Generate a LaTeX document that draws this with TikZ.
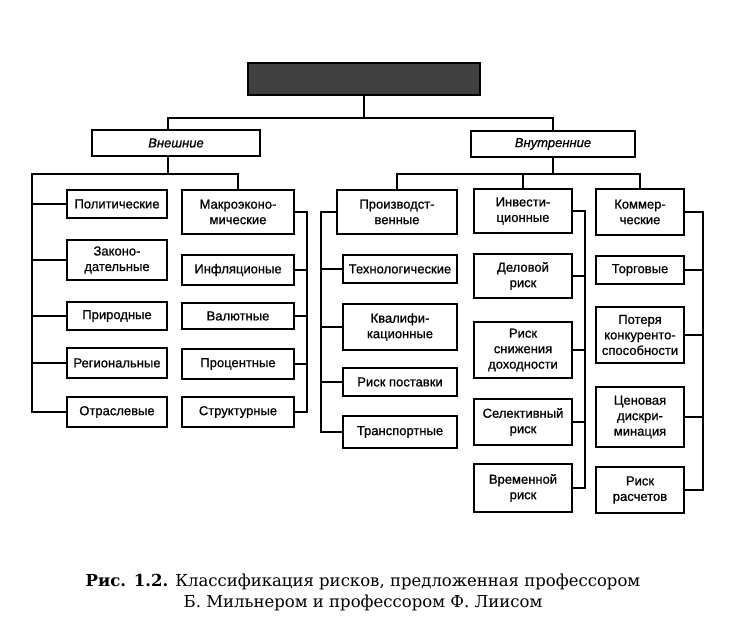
\documentclass[tikz,border=0pt]{standalone}
\usepackage{fontspec}
\setmainfont{DejaVu Serif}
\newfontfamily\boxsans[FakeBold=0.8]{Liberation Sans}

\tikzset{
  rbox/.style={draw,align=center,inner sep=0pt,
    font=\boxsans\fontsize{13}{15.5}\selectfont},
  grp/.style={rbox,font=\boxsans\itshape\fontsize{13}{15.5}\selectfont},
  colA/.style={rbox,minimum width=100pt},
  colB/.style={rbox,minimum width=112pt},
  colC/.style={rbox,minimum width=114pt},
  colD/.style={rbox,minimum width=98pt},
  colE/.style={rbox,minimum width=88pt}
}

\begin{document}
\begin{tikzpicture}[x=1pt,y=-1pt,line width=1.8pt]
\useasboundingbox (0,0) rectangle (735,623);

\node (risks) [draw,fill=black!75,minimum width=232pt,minimum height=32pt] at (364,79) {};
\node (ext) [grp,minimum width=168pt,minimum height=26pt] at (176,143) {Внешние};
\node (int) [grp,minimum width=164pt,minimum height=26pt] at (553,144) {Внутренние};

\node (pol)   [colA,minimum height=28pt] at (117,204) {Политические};
\node (zak)   [colA,minimum height=40pt] at (117,260) {Законо-\\дательные};
\node (pri)   [colA,minimum height=28pt] at (117,316) {Природные};
\node (reg)   [colA,minimum height=30pt] at (117,363) {Региональные};
\node (otr)   [colA,minimum height=30pt] at (117,412) {Отраслевые};

\node (makro) [colB,minimum height=44pt] at (238,212) {Макроэконо-\\мические};
\node (infl)  [colB,minimum height=30pt] at (238,270) {Инфляционые};
\node (val)   [colB,minimum height=26pt] at (238,316) {Валютные};
\node (proc)  [colB,minimum height=30pt] at (238,364) {Процентные};
\node (str)   [colB,minimum height=30pt] at (238,412) {Структурные};

\node (proizv) [colC,minimum width=120pt,minimum height=44pt] at (397,212) {Производст-\\венные};
\node (tech)  [colC,minimum height=28pt] at (400,269) {Технологические};
\node (kval)  [colC,minimum height=46pt] at (400,327) {Квалифи-\\кационные};
\node (post)  [colC,minimum height=28pt] at (400,382) {Риск поставки};
\node (trans) [colC,minimum height=32pt] at (400,432) {Транспортные};

\node (inv)   [colD,minimum height=44pt] at (523,211) {Инвести-\\ционные};
\node (del)   [colD,minimum height=44pt] at (523,276) {Деловой\\риск};
\node (snizh) [colD,minimum height=56pt] at (523,350) {Риск\\снижения\\доходности};
\node (sel)   [colD,minimum height=46pt] at (523,422) {Селективный\\риск};
\node (vrem)  [colD,minimum height=48pt] at (523,488) {Временной\\риск};

\node (komm)  [colE,minimum height=46pt] at (640,212) {Коммер-\\ческие};
\node (torg)  [colE,minimum height=28pt] at (640,270) {Торговые};
\node (poter) [colE,minimum height=56pt] at (640,335) {Потеря\\конкуренто-\\способности};
\node (cen)   [colE,minimum height=60pt] at (640,417) {Ценовая\\дискри-\\минация};
\node (rasch) [colE,minimum height=46pt] at (640,490) {Риск\\расчетов};

\coordinate (hT) at (364,118);
\coordinate (hE) at (168,174);
\coordinate (hI) at (553,174);
\coordinate (bA) at (32,0);
\coordinate (bB) at (307,0);
\coordinate (bC) at (321,0);
\coordinate (bD) at (585,0);
\coordinate (bE) at (703,0);

\draw (risks.south) -- (hT);
\draw ([xshift=-8pt]ext.north) |- (hT) -| (int.north);
\draw ([xshift=-8pt]ext.south) -- (hE);
\draw (int.south) -- (hI);

\draw (makro.north) |- (hE) -| (otr.west -| bA) -- (otr.west);
\foreach \n in {pol,zak,pri,reg}
  \draw (\n.west) -- (\n.west -| bA);
\draw (makro.east) -| (str.east -| bB) -- (str.east);
\foreach \n in {infl,val,proc}
  \draw (\n.east) -- (\n.east -| bB);

\draw (proizv.north) |- (hI) -| (komm.north);
\draw (inv.north) -- (inv.north |- hI);
\draw (proizv.west) -| (trans.west -| bC) -- (trans.west);
\foreach \n in {tech,kval,post}
  \draw (\n.west) -- (\n.west -| bC);
\draw (inv.east) -| (vrem.east -| bD) -- (vrem.east);
\foreach \n in {del,snizh,sel}
  \draw (\n.east) -- (\n.east -| bD);
\draw (komm.east) -| (rasch.east -| bE) -- (rasch.east);
\foreach \n in {torg,poter,cen}
  \draw (\n.east) -- (\n.east -| bE);

\node (cap) [align=center,font=\fontsize{16.5}{21}\selectfont] at (363,592)
  {\textbf{Рис. 1.2.} Классификация рисков, предложенная профессором\\
   Б. Мильнером и профессором Ф. Лиисом};
\end{tikzpicture}
\end{document}
